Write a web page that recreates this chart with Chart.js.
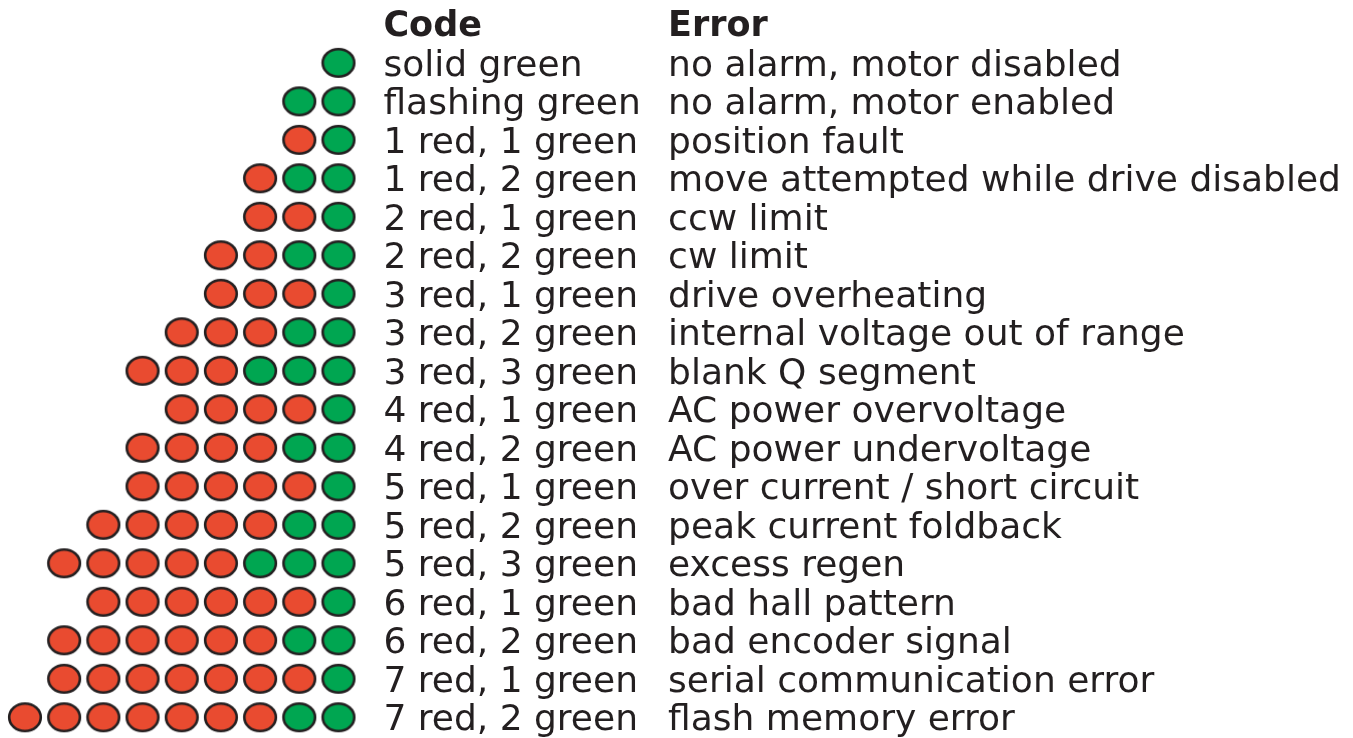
<!DOCTYPE html>
<html>
<head>
<meta charset="utf-8">
<script src="https://cdn.jsdelivr.net/npm/chart.js@4.4.1/dist/chart.umd.min.js"></script>
<style>
  html, body { margin: 0; padding: 0; background: #fff; }
  #wrap { width: 1353px; height: 738px; position: relative; }
</style>
</head>
<body>
<div id="wrap"><canvas id="ledChart"></canvas></div>
<script>
    // LED blink codes: red count, green count, code text, error text
    const redCounts   = [0, 0, 1, 1, 2, 2, 3, 3, 3, 4, 4, 5, 5, 5, 6, 6, 7, 7];
    const greenCounts = [1, 2, 1, 2, 1, 2, 1, 2, 3, 1, 2, 1, 2, 3, 1, 2, 1, 2];
    const codeLabels = [
        'solid green', 'flashing green', '1 red, 1 green', '1 red, 2 green',
        '2 red, 1 green', '2 red, 2 green', '3 red, 1 green', '3 red, 2 green',
        '3 red, 3 green', '4 red, 1 green', '4 red, 2 green', '5 red, 1 green',
        '5 red, 2 green', '5 red, 3 green', '6 red, 1 green', '6 red, 2 green',
        '7 red, 1 green', '7 red, 2 green'
    ];
    const errorLabels = [
        'no alarm, motor disabled', 'no alarm, motor enabled', 'position fault',
        'move attempted while drive disabled', 'ccw limit', 'cw limit',
        'drive overheating', 'internal voltage out of range', 'blank Q segment',
        'AC power overvoltage', 'AC power undervoltage', 'over current / short circuit',
        'peak current foldback', 'excess regen', 'bad hall pattern',
        'bad encoder signal', 'serial communication error', 'flash memory error'
    ];
    const headers = ['Code', 'Error'];

    const RED = '#e94b30';
    const GREEN = '#00a651';
    const OUTLINE = '#231f20';

    // ellipse shaped LED marker
    function ledImage(fill) {
        const c = document.createElement('canvas');
        c.width = 36;
        c.height = 32;
        const g = c.getContext('2d');
        g.beginPath();
        g.ellipse(18, 16, 15.8, 13.8, 0, 0, Math.PI * 2);
        g.fillStyle = fill;
        g.fill();
        g.lineWidth = 2.6;
        g.strokeStyle = OUTLINE;
        g.stroke();
        return c;
    }
    const redLed = ledImage(RED);
    const greenLed = ledImage(GREEN);

    // slot 0 is the rightmost LED, slots go left with negative x
    const redPoints = [];
    const greenPoints = [];
    redCounts.forEach((r, i) => {
        const g = greenCounts[i];
        const total = r + g;
        for (let k = 0; k < total; k++) {
            const pt = { x: -(total - 1 - k), y: i + 1 };
            if (k < r) redPoints.push(pt); else greenPoints.push(pt);
        }
    });

    const tableText = {
        id: 'tableText',
        afterDatasetsDraw(chart) {
            const ctx = chart.ctx;
            const xs = chart.scales.x;
            const ys = chart.scales.y;
            const codeX = xs.getPixelForValue(1.146);
            const errX = xs.getPixelForValue(8.41);
            ctx.save();
            ctx.fillStyle = '#231f20';
            ctx.textAlign = 'left';
            ctx.textBaseline = 'alphabetic';
            ctx.font = 'bold 35px "DejaVu Sans"';
            ctx.fillText(headers[0], codeX, ys.getPixelForValue(0) + 12);
            ctx.fillText(headers[1], errX, ys.getPixelForValue(0) + 12);
            ctx.font = '36px "DejaVu Sans"';
            codeLabels.forEach((t, i) => {
                const y = ys.getPixelForValue(i + 1) + 13;
                ctx.fillText(t, codeX, y);
                ctx.fillText(errorLabels[i], errX, y);
            });
            ctx.restore();
        }
    };

    const ctx1 = document.getElementById('ledChart').getContext('2d');

    new Chart(ctx1, {
        type: 'scatter',
        data: {
            datasets: [
                {
                    label: 'red',
                    data: redPoints,
                    pointStyle: redLed,
                    pointRadius: 1,
                    pointHoverRadius: 1,
                    borderWidth: 0
                },
                {
                    label: 'green',
                    data: greenPoints,
                    pointStyle: greenLed,
                    pointRadius: 1,
                    pointHoverRadius: 1,
                    borderWidth: 0
                }
            ]
        },
        options: {
            responsive: true,
            maintainAspectRatio: false,
            animation: false,
            layout: { padding: -1 },
            plugins: {
                legend: { display: false },
                tooltip: { enabled: false }
            },
            scales: {
                x: {
                    type: 'linear',
                    display: false,
                    min: -8.611,
                    max: 25.86
                },
                y: {
                    type: 'linear',
                    display: false,
                    reverse: true,
                    min: -0.606,
                    max: 18.513
                }
            }
        },
        plugins: [tableText]
    });
</script>
</body>
</html>
